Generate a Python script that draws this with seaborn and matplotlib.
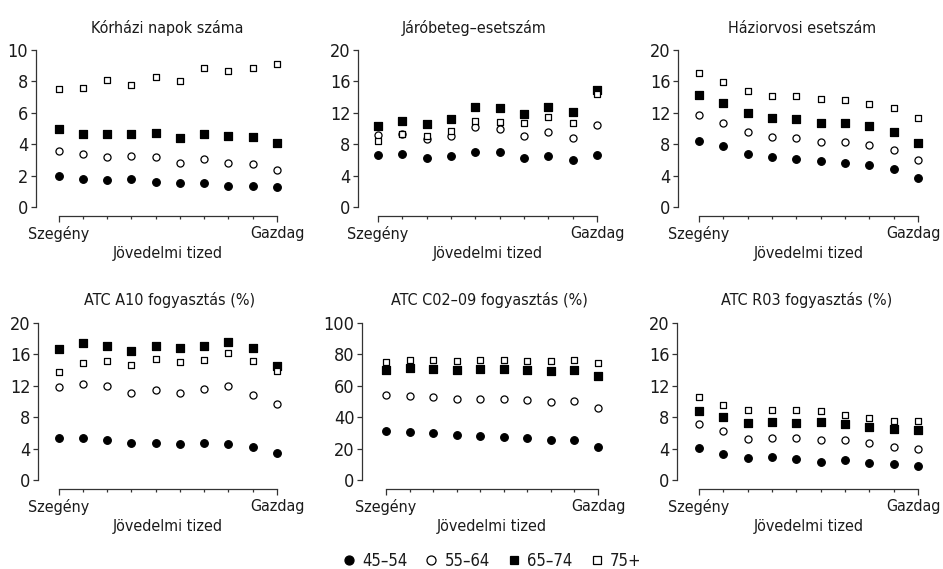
import matplotlib
matplotlib.use("Agg")
import matplotlib.pyplot as plt
import matplotlib.transforms as mtransforms
import seaborn as sns
from matplotlib.lines import Line2D
from matplotlib.ticker import FixedLocator

# deciles and groups
deciles = [1, 2, 3, 4, 5, 6, 7, 8, 9, 10]
groups = ["45–54", "55–64", "65–74", "75+"]

# values per panel, one list per age group (45-54, 55-64, 65-74, 75+)
korhazi_napok = [
    [2.0, 1.8, 1.7, 1.78, 1.6, 1.53, 1.51, 1.34, 1.32, 1.28],
    [3.57, 3.36, 3.19, 3.23, 3.19, 2.81, 3.06, 2.81, 2.74, 2.38],
    [4.94, 4.68, 4.68, 4.68, 4.74, 4.4, 4.68, 4.53, 4.43, 4.09],
    [7.49, 7.55, 8.06, 7.8, 8.26, 8.02, 8.87, 8.68, 8.83, 9.1],
]
jarobeteg = [
    [6.6, 6.72, 6.2, 6.5, 7.06, 6.98, 6.3, 6.5, 6.0, 6.68],
    [9.15, 9.36, 8.72, 9.06, 10.2, 9.96, 9.1, 9.57, 8.85, 10.5],
    [10.26, 10.9, 10.55, 11.2, 12.77, 12.55, 11.9, 12.7, 12.05, 14.9],
    [8.38, 9.28, 9.1, 9.7, 11.0, 10.85, 10.64, 11.5, 10.64, 14.4],
]
haziorvosi = [
    [8.43, 7.74, 6.8, 6.34, 6.09, 5.8, 5.6, 5.36, 4.85, 3.7],
    [11.66, 10.64, 9.53, 8.98, 8.8, 8.3, 8.3, 7.96, 7.32, 6.04],
    [14.3, 13.2, 12.0, 11.36, 11.2, 10.7, 10.7, 10.34, 9.5, 8.17],
    [17.1, 15.96, 14.8, 14.2, 14.2, 13.7, 13.6, 13.15, 12.55, 11.3],
]
atc_a10 = [
    [5.3, 5.34, 5.04, 4.7, 4.66, 4.58, 4.7, 4.53, 4.19, 3.47],
    [11.78, 12.25, 11.9, 11.1, 11.4, 11.1, 11.52, 11.95, 10.8, 9.7],
    [16.6, 17.37, 17.1, 16.44, 17.0, 16.8, 17.1, 17.58, 16.74, 14.45],
    [13.73, 14.9, 15.1, 14.58, 15.4, 15.0, 15.25, 16.19, 15.1, 13.86],
]
atc_c02 = [
    [31.4, 30.5, 29.7, 28.4, 27.8, 27.3, 26.7, 25.6, 25.2, 21.0],
    [54.0, 53.4, 52.5, 51.5, 51.7, 51.5, 50.6, 49.8, 50.0, 46.0],
    [70.1, 71.0, 70.3, 69.9, 70.3, 70.3, 69.7, 69.1, 69.9, 65.9],
    [75.2, 76.5, 76.1, 75.6, 76.5, 76.3, 75.8, 75.4, 76.3, 74.6],
]
atc_r03 = [
    [4.11, 3.35, 2.8, 2.88, 2.67, 2.33, 2.54, 2.2, 2.03, 1.82],
    [7.08, 6.23, 5.2, 5.38, 5.38, 5.08, 5.08, 4.7, 4.24, 3.9],
    [8.77, 8.0, 7.29, 7.42, 7.2, 7.33, 7.08, 6.7, 6.44, 6.31],
    [10.5, 9.5, 8.86, 8.94, 8.94, 8.73, 8.3, 7.84, 7.54, 7.5],
]

titles = ["Kórházi napok száma", "Járóbeteg–esetszám", "Háziorvosi esetszám",
          "ATC A10 fogyasztás (%)", "ATC C02–09 fogyasztás (%)", "ATC R03 fogyasztás (%)"]
panel_data = [korhazi_napok, jarobeteg, haziorvosi, atc_a10, atc_c02, atc_r03]
y_max = [10, 20, 20, 20, 100, 20]
y_step = [2, 4, 4, 4, 20, 4]

# marker style per group: (marker, face, size)
styles = [("o", "black", 30), ("o", "white", 26), ("s", "black", 26), ("s", "white", 22)]

# pixel layout: first tick, last tick, y spine, y=0, y=top, title centre
layout = [
    (58.7, 277, 36, 207, 50, 167),
    (378, 597, 358, 207, 50, 474),
    (699, 918, 678, 207, 50, 802),
    (58.7, 277, 38, 480, 322.7, 170),
    (386, 598, 362, 480, 322.7, 489),
    (699, 918, 677, 480, 322.7, 807),
]

sns.set_theme(style="ticks")
plt.rcParams["font.family"] = ["DejaVu Sans"]
plt.rcParams["font.stretch"] = "condensed"
plt.rcParams["font.size"] = 12
plt.rcParams["text.color"] = "#1a1a1a"
plt.rcParams["axes.labelcolor"] = "#1a1a1a"
plt.rcParams["xtick.labelcolor"] = "#1a1a1a"
plt.rcParams["ytick.labelcolor"] = "#1a1a1a"

W, H = 943, 569
fig = plt.figure(figsize=(W / 100, H / 100), dpi=100)

for i in range(6):
    t1, t10, spine, y0, ytop, tc = layout[i]
    unit = (t10 - t1) / 9
    right = t10 + 0.3 * unit
    ax = fig.add_axes([spine / W, 1 - y0 / H, (right - spine) / W, (y0 - ytop) / H])
    for g in range(4):
        m, face, s = styles[g]
        sns.scatterplot(x=deciles, y=panel_data[i][g], marker=m, s=s, color=face,
                        edgecolor="black", linewidth=0.9, ax=ax, legend=False,
                        clip_on=False, zorder=3)
    ax.set_xlim(1 - (t1 - spine) / unit, 10.3)
    ax.set_ylim(0, y_max[i])
    ax.set_yticks(range(0, y_max[i] + 1, y_step[i]))
    ax.set_xticks([1, 10])
    ax.set_xticklabels(["Szegény", "Gazdag"])
    ax.xaxis.set_minor_locator(FixedLocator(deciles[1:-1]))
    sns.despine(ax=ax)
    ax.spines["bottom"].set_position(("outward", 6.5))
    ax.spines["bottom"].set_bounds(1, 10)
    ax.spines["left"].set_bounds(0, y_max[i])
    for sp in ["left", "bottom"]:
        ax.spines[sp].set_linewidth(0.9)
        ax.spines[sp].set_color("#333333")
    ax.tick_params(axis="y", length=3.5, width=0.9, pad=2, labelsize=13, color="#333333")
    ax.tick_params(axis="x", which="major", length=4, width=0.9, pad=3, labelsize=11.5, color="#333333")
    ax.tick_params(axis="x", which="minor", length=2.5, width=0.9, color="#333333")
    if i % 3 == 2:
        # keep "Gazdag" inside the figure on the right column
        lab = ax.get_xticklabels()[1]
        lab.set_transform(lab.get_transform()
                          + mtransforms.ScaledTranslation(-3 / 72, 0, fig.dpi_scale_trans))
    xc = ((t1 + t10) / 2 - spine) / (right - spine)
    ax.set_xlabel("Jövedelmi tized", fontsize=11.5, labelpad=1)
    ax.xaxis.set_label_coords(xc, -0.25)
    ax.set_title(titles[i], fontsize=11.5, pad=12.5, x=(tc - spine) / (right - spine))
    ax.set_facecolor("none")

handles = []
for g in range(4):
    m, face, s = styles[g]
    handles.append(Line2D([], [], linestyle="", marker=m, markersize=6.5 if m == "o" else 6,
                          markerfacecolor=face, markeredgecolor="black", markeredgewidth=0.9))
fig.legend(handles, groups, loc="center", bbox_to_anchor=(491 / W, 1 - 561 / H), ncol=4,
           frameon=False, fontsize=12, handletextpad=0.3, columnspacing=0.95, handlelength=1)

fig.savefig("out.png", dpi=100)
